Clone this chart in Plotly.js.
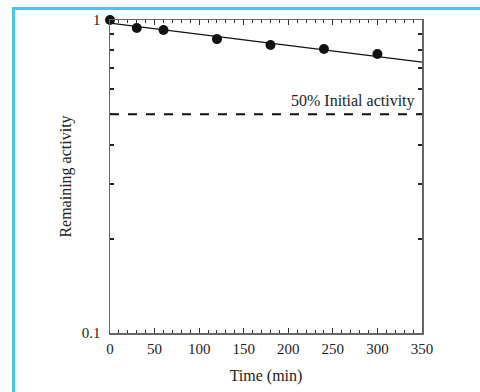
<!DOCTYPE html>
<html>
<head>
<meta charset="utf-8">
<script src="https://cdn.plot.ly/plotly-3.0.1.min.js"></script>
<style>
html,body{margin:0;padding:0;background:#fff;}
#wrap{position:relative;width:480px;height:392px;}
#chart{width:480px;height:392px;}
#frameL{position:absolute;left:12px;top:7px;width:3px;height:385px;background:#45c8ef;}
#frameT{position:absolute;left:12px;top:7px;width:468px;height:3px;background:#45c8ef;}
</style>
</head>
<body>
<div id="wrap">
<div id="chart"></div>
<div id="frameL"></div>
<div id="frameT"></div>
</div>
<script>
const timeMin = [0, 30, 60, 120, 180, 240, 300];
const activity = [1.0, 0.943, 0.929, 0.869, 0.832, 0.808, 0.779];
const fitX = [0, 350];
const fitY = [0.978, 0.734];
const halfX = [0, 350];
const halfY = [0.5, 0.5];
const xTicks = [0, 50, 100, 150, 200, 250, 300, 350];
const yTicks = [0.1, 1];
const yTickText = ['0.1', '1'];
const yMinor = [0.2, 0.3, 0.4, 0.5, 0.6, 0.7, 0.8, 0.9];

const tickFont = {family: 'Liberation Serif', color: '#222', size: 15};
const titleFont = {family: 'Liberation Serif', color: '#222', size: 16};
const annFont = {family: 'Liberation Serif', color: '#222', size: 16};

const traces = [
  {x: fitX, y: fitY, mode: 'lines', line: {color: '#111', width: 1.3}, hoverinfo: 'skip'},
  {x: halfX, y: halfY, mode: 'lines', line: {color: '#111', width: 2, dash: 'dash'}, hoverinfo: 'skip'},
  {x: timeMin, y: activity, mode: 'markers', marker: {color: '#111', size: 10}, cliponaxis: false}
];

const layout = {
  width: 480, height: 392,
  margin: {l: 110, r: 58, t: 20, b: 59},
  paper_bgcolor: '#fff', plot_bgcolor: '#fff',
  showlegend: false,
  font: tickFont,
  xaxis: {
    range: [0, 350], tickvals: xTicks, ticks: 'inside', ticklen: 5, tickwidth: 1.2, tickcolor: '#333',
    showline: true, linecolor: '#666', linewidth: 1.5, mirror: 'ticks', showgrid: false, zeroline: false,
    minor: {dtick: 10, tick0: 0, ticks: 'inside', ticklen: 3, tickwidth: 1, tickcolor: '#333', showgrid: false},
    tickfont: tickFont, ticklabelstandoff: 1,
    title: {text: 'Time (min)', font: titleFont, standoff: 14}
  },
  yaxis: {
    type: 'log', range: [-1, 0], tickvals: yTicks, ticktext: yTickText, ticks: 'inside', ticklen: 4, tickwidth: 2, tickcolor: '#222',
    showline: true, linecolor: '#666', linewidth: 1.5, mirror: 'ticks', showgrid: false, zeroline: false,
    minor: {tickvals: yMinor, ticks: 'inside', ticklen: 4, tickwidth: 2, tickcolor: '#222', showgrid: false},
    tickfont: tickFont, ticklabelstandoff: 5,
    title: {text: 'Remaining activity', font: titleFont, standoff: 6}
  },
  annotations: [{
    x: 350, y: Math.log10(0.5), xref: 'x', yref: 'y', text: '50% Initial activity',
    showarrow: false, xanchor: 'right', yanchor: 'bottom', xshift: -5, yshift: 2, font: annFont
  }]
};

Plotly.newPlot('chart', traces, layout, {displayModeBar: false, staticPlot: true});
</script>
</body>
</html>
